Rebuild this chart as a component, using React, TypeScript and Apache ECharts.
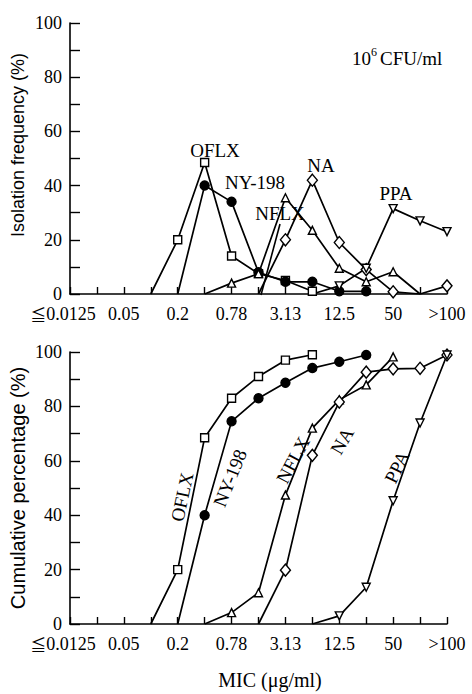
import React, { useEffect, useRef } from 'react';
import * as echarts from 'echarts';

const categories = ['≦0.0125', '0.025', '0.05', '0.1', '0.2', '0.39', '0.78', '1.56', '3.13', '6.25', '12.5', '25', '50', '100', '>100'];
const seriesNames = ['OFLX', 'NY-198', 'NFLX', 'NA', 'PPA'];

// Isolation frequency (%) at 10^6 CFU/ml
const freqOFLX = [null, null, null, 0, 20, 48.5, 14, 7.5, 5, 1, null, null, null, null, null];
const freqNY198 = [null, null, null, null, 0, 40, 34, 8, 4.5, 4.5, 1, 1, null, null, null];
const freqNFLX = [null, null, null, null, null, 0, 4, 7.5, 35.5, 23.5, 9.5, 4.5, 8.2, 0, null];
const freqNA = [null, null, null, null, null, null, null, 0, 20, 42, 19, 9, 0.8, 0, 3];
const freqPPA = [null, null, null, null, null, null, null, null, null, 0, 3, 9.5, 31.5, 27, 23];

// Cumulative percentage (%)
const cumOFLX = [null, null, null, 0, 20, 68.5, 83, 91, 97, 99, null, null, null, null, null];
const cumNY198 = [null, null, null, null, 0, 40, 74.5, 83, 88.7, 94.1, 96.4, 98.9, null, null, null];
const cumNFLX = [null, null, null, null, null, 0, 4.2, 11.5, 47.4, 72, 82.4, 87.9, 98.2, null, null];
const cumNA = [null, null, null, null, null, null, null, 0, 19.8, 62, 81.6, 92.6, 93.8, 94, 98.9];
const cumPPA = [null, null, null, null, null, null, null, null, null, 0, 3, 13.5, 45.3, 73.9, 98.9];

const SERIF = '"Liberation Serif", "DejaVu Serif", serif';
const SANS = '"Liberation Sans", Arial, sans-serif';
const CJK = '"Noto Sans CJK JP", sans-serif';

const markers: any[] = [
  { symbol: 'rect', symbolSize: 8, symbolRotate: 0, fill: '#fff' },
  { symbol: 'circle', symbolSize: 9, symbolRotate: 0, fill: '#000' },
  { symbol: 'triangle', symbolSize: 8, symbolRotate: 0, fill: '#fff' },
  { symbol: 'diamond', symbolSize: [10, 12], symbolRotate: 0, fill: '#fff' },
  { symbol: 'triangle', symbolSize: 8, symbolRotate: 180, fill: '#fff' },
];

function toData(arr: (number | null)[]) {
  return arr.map((v) => (v === null ? null : v === 0 ? { value: 0, symbol: 'none' } : v));
}

function makeSeries(arrs: (number | null)[][], gridIdx: number) {
  return arrs.map((arr, i) => ({
    name: seriesNames[i] + (gridIdx === 0 ? '' : ' cum'),
    type: 'line',
    xAxisIndex: gridIdx,
    yAxisIndex: gridIdx,
    data: toData(arr),
    symbol: markers[i].symbol,
    symbolSize: markers[i].symbolSize,
    symbolRotate: markers[i].symbolRotate,
    showAllSymbol: true,
    connectNulls: false,
    lineStyle: { color: '#000', width: 1.7 },
    itemStyle: { color: markers[i].fill, borderColor: '#000', borderWidth: 1.4 },
    emphasis: { disabled: true },
    z: 3,
  }));
}

function xAxis(gridIndex: number) {
  return {
    type: 'category',
    gridIndex,
    data: categories,
    boundaryGap: false,
    axisLine: { show: true, lineStyle: { color: '#000', width: 1.6 } },
    axisTick: { show: true, inside: true, length: 7, interval: 0, lineStyle: { color: '#000', width: 1.4 } },
    axisLabel: {
      interval: 1,
      color: '#000',
      fontFamily: SERIF,
      fontSize: 18,
      margin: 11,
      formatter: (v: string, idx: number) => (idx === 0 ? '{s|≦}{a|' + v.slice(1) + '}' : v),
      rich: {
        s: { fontFamily: CJK, fontSize: 16, color: '#000' },
        a: { fontFamily: SERIF, fontSize: 18, color: '#000', padding: [0, 14, 0, 0] },
      },
    },
    splitLine: { show: false },
  };
}

function yAxis(gridIndex: number) {
  return {
    type: 'value',
    gridIndex,
    min: 0,
    max: 100,
    interval: 10,
    axisLine: { show: true, lineStyle: { color: '#000', width: 1.6 } },
    axisTick: { show: true, inside: true, length: 10, lineStyle: { color: '#000', width: 1.4 } },
    axisLabel: {
      color: '#000',
      fontFamily: SERIF,
      fontSize: 18,
      margin: 8,
      formatter: (v: number) => (v % 20 === 0 ? String(v) : ''),
    },
    splitLine: { show: false },
  };
}

function txt(text: string, x: number, y: number, opts: any = {}) {
  return {
    type: 'text',
    x,
    y,
    rotation: opts.rotation || 0,
    style: {
      text,
      fill: '#000',
      font: opts.font || `19px ${SERIF}`,
      align: opts.align || 'center',
      verticalAlign: 'middle',
      rich: opts.rich,
    },
    z: 10,
  };
}

const deg = Math.PI / 180;

export default function App() {
  const ref = useRef<HTMLDivElement>(null);
  useEffect(() => {
    if (!ref.current) return;
    const chart = echarts.init(ref.current, undefined, { renderer: 'svg' });
    chart.setOption({
      animation: false,
      backgroundColor: '#fff',
      grid: [
        { left: 70, top: 23, width: 377, height: 271 },
        { left: 70, top: 352, width: 377, height: 272 },
      ],
      xAxis: [xAxis(0), xAxis(1)],
      yAxis: [yAxis(0), yAxis(1)],
      series: [
        ...makeSeries([freqOFLX, freqNY198, freqNFLX, freqNA, freqPPA], 0),
        ...makeSeries([cumOFLX, cumNY198, cumNFLX, cumNA, cumPPA], 1),
      ],
      graphic: [
        txt('{n|10}{sup|6}{n|CFU/ml}', 352, 57, {
          align: 'left',
          font: `18px ${SERIF}`,
          rich: {
            n: { fontFamily: SERIF, fontSize: 19, lineHeight: 22, verticalAlign: 'bottom' },
            sup: { fontFamily: SERIF, fontSize: 12, lineHeight: 22, verticalAlign: 'top', padding: [0, 3, 0, 0] },
          },
        }),
        txt('OFLX', 215, 150),
        txt('NY-198', 255, 182),
        txt('NFLX', 280, 213),
        txt('NA', 321, 165),
        txt('PPA', 396, 193),
        {
          type: 'line',
          shape: { x1: 261, y1: 295, x2: 280, y2: 224 },
          style: { stroke: '#000', lineWidth: 1.6 },
          z: 5,
        },
        txt('OFLX', 182, 497, { rotation: 78 * deg }),
        txt('NY-198', 230, 478, { rotation: 68 * deg }),
        txt('NFLX', 293, 460, { rotation: 62 * deg }),
        txt('NA', 342, 441, { rotation: 60 * deg }),
        txt('PPA', 397, 467, { rotation: 64 * deg }),
        txt('Isolation frequency (%)', 18, 145, { rotation: 90 * deg, font: `18px ${SANS}` }),
        txt('Cumulative percentage (%)', 18, 488, { rotation: 90 * deg, font: `20px ${SANS}` }),
        txt('MIC (μg/ml)', 270, 680, { font: `20px ${SERIF}` }),
      ],
    });
    return () => chart.dispose();
  }, []);
  return <div ref={ref} style={{ position: 'fixed', left: 0, top: 0, width: 472, height: 694 }} />;
}
